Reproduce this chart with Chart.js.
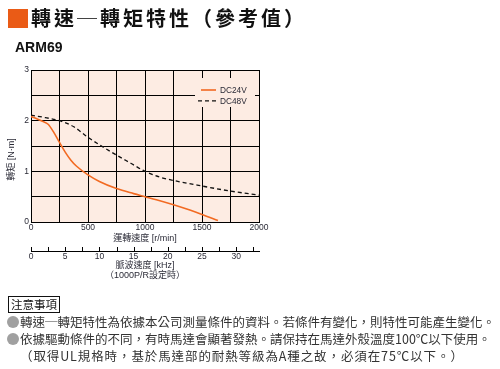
<!DOCTYPE html>
<html><head><meta charset="utf-8">
<script src="https://cdn.jsdelivr.net/npm/chart.js@4/dist/chart.umd.min.js"></script>
<style>
html,body{margin:0;padding:0;}
body{width:500px;height:369px;position:relative;background:#fff;overflow:hidden;font-family:"Liberation Sans",Arial,"Noto Sans CJK TC",sans-serif;}
#wrap{position:absolute;left:0;top:0;width:500px;height:369px;}
#c{display:block;}
.t{position:absolute;white-space:nowrap;}
#title{left:31px;top:3px;font-weight:bold;font-size:20px;letter-spacing:3px;line-height:30px;font-family:"Noto Sans CJK TC",sans-serif;color:#111;}
#sq{left:8px;top:9px;width:20px;height:19px;background:#ea5b16;}
#model{left:15px;top:39px;font:bold 14px "Liberation Sans",Arial,sans-serif;color:#111;}
#nbox{left:8px;top:296px;height:15px;padding:0 2px;border:1px solid #111;font-size:11.5px;line-height:15px;font-family:"Noto Sans CJK TC",sans-serif;color:#111;}
.note{left:7px;font-size:12.5px;line-height:17px;font-family:"Noto Sans CJK TC",sans-serif;color:#333;}
.dot{display:inline-block;width:12px;height:12px;border-radius:50%;background:#a0a0a0;vertical-align:-1px;margin-right:1px;}
</style></head><body>
<div id="wrap"><canvas id="c" width="500" height="369"></canvas></div>
<div class="t" id="sq"></div>
<div class="t" id="title">轉速─轉矩特性（參考值）</div>
<div class="t" id="model">ARM69</div>
<div class="t" id="nbox">注意事項</div>
<div class="t note" style="top:313px"><span class="dot"></span>轉速─轉矩特性為依據本公司測量條件的資料。若條件有變化，則特性可能產生變化。</div>
<div class="t note" style="top:330px"><span class="dot"></span>依據驅動條件的不同，有時馬達會顯著發熱。請保持在馬達外殼溫度100℃以下使用。</div>
<div class="t note" style="top:347px;left:20px;letter-spacing:0.9px">（取得UL規格時，基於馬達部的耐熱等級為A種之故，必須在75℃以下。）</div>
<script>
// ---- data ----
const seriesLabels = ['DC24V', 'DC48V'];
const rpm24 = [0, 50, 100, 150, 200, 250, 300, 350, 400, 500, 600, 750, 900, 1000, 1100, 1250, 1400, 1500, 1640];
const torque24 = [2.08, 2.04, 1.99, 1.93, 1.77, 1.57, 1.38, 1.22, 1.10, 0.93, 0.80, 0.66, 0.56, 0.50, 0.44, 0.34, 0.23, 0.15, 0.03];
const rpm48 = [0, 125, 250, 375, 500, 625, 750, 875, 1000, 1125, 1250, 1500, 1750, 2000];
const torque48 = [2.11, 2.06, 2.00, 1.88, 1.67, 1.49, 1.32, 1.16, 1.00, 0.89, 0.82, 0.71, 0.61, 0.53];
const rpmTicks = [0, 500, 1000, 1500, 2000];
const torqueTicks = [0, 1, 2, 3];
const khzTicks = [0, 5, 10, 15, 20, 25, 30];
const rpmMax = 2000;
const pulsePerRev = 1000;

const khzMax = rpmMax * pulsePerRev / 60 / 1000;
const tickColor = '#2a2a36';
const plotBg = '#fdece3';
const orange = '#f26a22';
const titleFamily = '"Liberation Sans", Arial, "Noto Sans CJK TC", sans-serif';

const bgPlugin = {
  id: 'bg',
  beforeDraw(chart) {
    const {ctx, chartArea: a} = chart;
    ctx.save();
    ctx.fillStyle = plotBg;
    ctx.fillRect(a.left, a.top, a.right - a.left, a.bottom - a.top);
    ctx.restore();
  }
};

const khzTickPlugin = {
  id: 'khzTicks',
  afterDraw(chart) {
    const s = chart.scales.x2;
    const ctx = chart.ctx;
    ctx.save();
    ctx.strokeStyle = '#000';
    ctx.lineWidth = 1;
    ctx.beginPath();
    for (let v = 0; v <= khzMax + 1e-9; v += 2.5) {
      const px = Math.round(s.getPixelForValue(v)) + 0.5;
      ctx.moveTo(px, s.top);
      ctx.lineTo(px, s.top - 4);
    }
    ctx.stroke();
    ctx.restore();
  }
};

const legendPlugin = {
  id: 'boxLegend',
  afterDraw(chart) {
    const ctx = chart.ctx;
    ctx.save();
    ctx.fillStyle = plotBg;
    ctx.fillRect(195, 78, 60, 29);
    ctx.font = '8.3px "Liberation Sans", Arial, sans-serif';
    ctx.textBaseline = 'middle';
    ctx.fillStyle = tickColor;
    chart.data.datasets.forEach((ds, i) => {
      const y = 90 + i * 10.8;
      ctx.strokeStyle = ds.borderColor;
      ctx.lineWidth = ds.borderWidth;
      ctx.setLineDash(ds.borderDash || []);
      ctx.beginPath();
      ctx.moveTo(i === 0 ? 201 : 198, y);
      ctx.lineTo(216, y);
      ctx.stroke();
      ctx.setLineDash([]);
      ctx.fillText(ds.label, 220, y + 0.5);
    });
    ctx.restore();
  }
};

const toXY = (xs, ys) => xs.map((x, i) => ({x, y: ys[i]}));

new Chart(document.getElementById('c'), {
  type: 'line',
  data: {
    datasets: [
      {label: seriesLabels[0], data: toXY(rpm24, torque24), borderColor: orange, borderWidth: 1.6,
       pointRadius: 0, cubicInterpolationMode: 'monotone', fill: false, xAxisID: 'x', yAxisID: 'y'},
      {label: seriesLabels[1], data: toXY(rpm48, torque48), borderColor: '#111', borderWidth: 1.3, borderDash: [4, 3],
       pointRadius: 0, cubicInterpolationMode: 'monotone', fill: false, xAxisID: 'x', yAxisID: 'y'}
    ]
  },
  options: {
    responsive: false,
    animation: false,
    devicePixelRatio: 1,
    layout: {padding: {left: 0, top: 70, right: 241, bottom: 78}},
    plugins: {legend: {display: false}, tooltip: {enabled: false}},
    scales: {
      x: {
        type: 'linear', position: 'bottom', min: 0, max: rpmMax,
        afterFit: s => { s.height = 29; },
        grid: {color: '#000', lineWidth: 1, drawTicks: false},
        border: {color: '#000', width: 1},
        ticks: {stepSize: 250, autoSkip: false, padding: 1, color: tickColor, maxRotation: 0,
                font: {size: 8.5, family: '"Liberation Sans", Arial, sans-serif'},
                callback: v => rpmTicks.includes(v) ? String(v) : ''},
        title: {display: true, text: '運轉速度 [r/min]', color: tickColor,
                font: {size: 9, family: titleFamily, lineHeight: 1.2},
                padding: {top: 0, bottom: 7}}
      },
      x2: {
        type: 'linear', position: 'bottom', min: 0, max: khzMax,
        afterFit: s => { s.height = 40; },
        grid: {display: false, drawTicks: false},
        border: {display: true, color: '#000', width: 1},
        ticks: {stepSize: 2.5, autoSkip: false, padding: 1, color: tickColor, maxRotation: 0,
                font: {size: 8.5, family: '"Liberation Sans", Arial, sans-serif'},
                callback: v => khzTicks.includes(v) ? String(v) : ''},
        title: {display: true, text: ['脈波速度 [kHz]', '（1000P/R設定時）'], color: tickColor,
                font: {size: 9, family: titleFamily, lineHeight: '10.5px'},
                padding: {top: 0, bottom: 10}}
      },
      y: {
        type: 'linear', position: 'left', min: 0, max: 3,
        afterFit: s => { s.width = 31; },
        grid: {color: '#000', lineWidth: 1, drawTicks: false},
        border: {color: '#000', width: 1},
        ticks: {stepSize: 0.5, autoSkip: false, padding: 2, color: tickColor,
                font: {size: 8.5, family: '"Liberation Sans", Arial, sans-serif'},
                callback: v => torqueTicks.includes(v) ? String(v) : ''},
        title: {display: true, text: '轉矩 [N·m]\u3000\u3000\u3000', color: tickColor,
                font: {size: 9, family: titleFamily, lineHeight: 1.2},
                padding: {top: 6, bottom: 0}}
      }
    }
  },
  plugins: [bgPlugin, khzTickPlugin, legendPlugin]
});
</script>
</body></html>
